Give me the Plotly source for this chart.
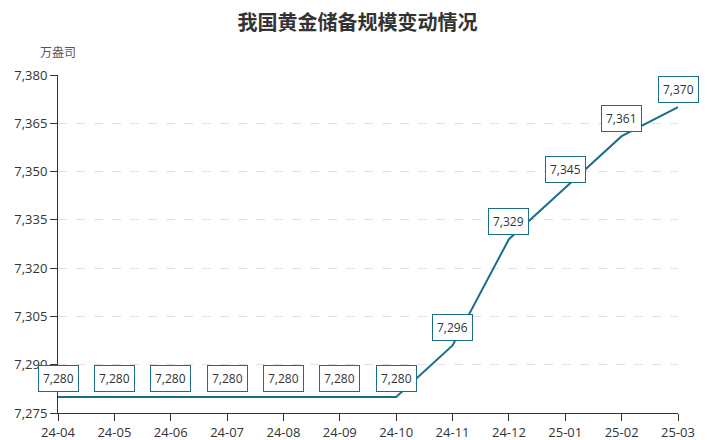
import plotly.graph_objects as go

# monthly gold reserve data (10k oz)
months = ["24-04", "24-05", "24-06", "24-07", "24-08", "24-09", "24-10",
          "24-11", "24-12", "25-01", "25-02", "25-03"]
reserves = [7280, 7280, 7280, 7280, 7280, 7280, 7280, 7296, 7329, 7345, 7361, 7370]
y_ticks = [7275, 7290, 7305, 7320, 7335, 7350, 7365, 7380]

line_color = "#1b6e8a"
font_cn = "Noto Sans CJK SC"
font_num = "Open Sans"

fig = go.Figure()
fig.add_trace(go.Scatter(
    x=months, y=reserves, mode="lines",
    line=dict(color=line_color, width=2),
    hoverinfo="x+y", showlegend=False, cliponaxis=False
))

# boxed value labels above each point
for m, v in zip(months, reserves):
    fig.add_annotation(
        x=m, y=v, text=f"{v:,}", showarrow=False,
        yshift=18, font=dict(family=font_num, size=12, color="#333333"),
        bgcolor="white", bordercolor=line_color, borderwidth=1, borderpad=4
    )

# unit label
fig.add_annotation(
    xref="paper", yref="paper", x=0, y=1, text="万盎司", showarrow=False,
    xanchor="center", yanchor="bottom", yshift=13,
    font=dict(family=font_cn, size=12, color="#555555")
)

# page body has an 8px margin, so the figure is a bit smaller than the window
fig.update_layout(
    title=dict(text="<b>我国黄金储备规模变动情况</b>", x=0.5, xanchor="center",
               y=0.965, yanchor="middle", automargin=False,
               font=dict(family=font_cn, size=20, color="#333333")),
    width=699, height=432,
    margin=dict(l=50, r=29, t=67, b=27, autoexpand=False),
    paper_bgcolor="white", plot_bgcolor="white",
    font=dict(family=font_num, size=13, color="#333333"),
    xaxis=dict(type="category", range=[0, 11], showgrid=False, zeroline=False,
               automargin=False,
               showline=True, linecolor="#333333", linewidth=1,
               ticks="outside", ticklen=7, tickcolor="#333333",
               tickfont=dict(size=13, color="#333333")),
    yaxis=dict(range=[7275, 7380], tickvals=y_ticks, automargin=False,
               ticktext=[f"{t:,}" for t in y_ticks],
               showgrid=True, gridcolor="#e0e0e0", griddash="dash", gridwidth=1,
               zeroline=False, showline=True, linecolor="#333333", linewidth=1,
               ticks="outside", ticklen=7, tickcolor="#333333",
               tickfont=dict(size=13, color="#333333")),
)

fig.write_html("out.html")
